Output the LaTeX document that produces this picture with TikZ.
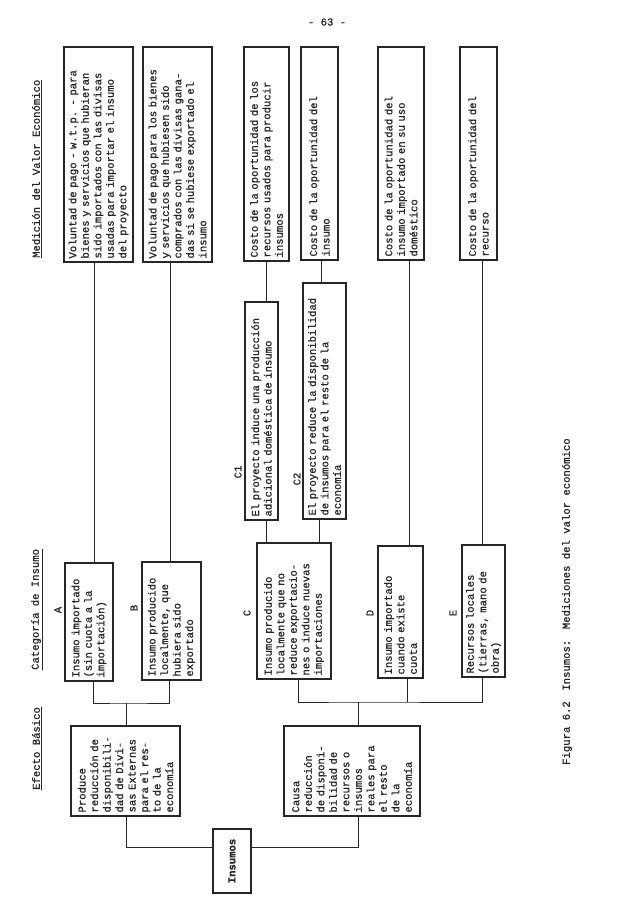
\documentclass[tikz,border=0pt]{standalone}
\usepackage{fontspec}
\setmainfont{Liberation Mono}[FakeBold=0.8]
\newcommand\mkbox[6]{%
  \pgfmathsetmacro\cx{(#2+#3)/2}\pgfmathsetmacro\cy{(#4+#5)/2}%
  \pgfmathsetmacro\bl{#5-#4}\pgfmathsetmacro\bh{#3-#2}\pgfmathsetmacro\tw{#5-#4-7}%
  \node[box, minimum width=\bl pt, minimum height=\bh pt, text width=\tw pt] (#1) at (\cx,\cy) {#6};}
\begin{document}
\begin{tikzpicture}[x=1pt,y=-1pt,
  every node/.style={font=\fontsize{10.6}{12.5}\selectfont, text=black!85},
  box/.style={draw=black!85, line width=1.1pt, rotate=90, inner xsep=3.5pt, inner ysep=2pt, align=left},
  lbl/.style={rotate=90, inner sep=0pt},
  conn/.style={draw=black!85, line width=0.9pt}]
\useasboundingbox (0,0) rectangle (618,915);
\fill[white] (0,0) rectangle (618,915);

\node[inner sep=0pt] (pg) at (327,22) {- 63 -};

% headers
\node[lbl, anchor=west] (h1) at (37,258) {\underline{Medición del Valor Económico}};
\node[lbl, anchor=west] (h2) at (37,670) {\underline{Categoría de Insumo}};
\node[lbl, anchor=west] (h3) at (37,790) {\underline{Efecto Básico}};

% measurement boxes
\mkbox{vol1}{64}{133}{47}{262}{Voluntad de pago - w.t.p. - para\\bienes y servicios que hubieran\\sido importados con las divisas\\usadas para importar el insumo\\del proyecto}
\mkbox{vol2}{143}{212}{47}{262}{Voluntad de pago para los bienes\\y servicios que hubiesen sido\\comprados con las divisas gana-\\das si se hubiese exportado el\\insumo}
\mkbox{cost1}{244}{289}{47}{261}{Costo de la oportunidad de los\\recursos usados para producir\\insumos}
\mkbox{cost2}{301}{338}{47}{260}{Costo de la oportunidad del\\insumo}
\mkbox{cost3}{378}{424}{47}{260}{Costo de la oportunidad del\\insumo importado en su uso\\doméstico}
\mkbox{cost4}{460}{497}{47}{260}{Costo de la oportunidad del\\recurso}

% C1 C2
\mkbox{c1}{245}{278}{302}{520}{El proyecto induce una producción\\adicional doméstica de insumo}
\mkbox{c2}{303}{346}{283}{519}{El proyecto reduce la disponibilidad\\de insumos para el resto de la\\economía}
\node[lbl] (lc1) at (238,472) {C1};
\node[lbl] (lc2) at (297,479) {C2};

% categories
\mkbox{A}{65}{113}{563}{681}{Insumo importado\\(sin cuota a la\\importación)}
\mkbox{B}{142}{201}{562}{680}{Insumo producido\\localmente, que\\hubiera sido\\exportado}
\mkbox{C}{257}{331}{543}{679}{Insumo producido\\localmente que no\\reduce exportacio-\\nes o induce nuevas\\importaciones}
\mkbox{D}{378}{423}{546}{678}{Insumo importado\\cuando existe\\cuota}
\mkbox{E}{462}{505}{545}{677}{Recursos locales\\(tierras, mano de\\obra)}
\node[lbl] (la) at (58,610) {A};
\node[lbl] (lb) at (134,608) {B};
\node[lbl] (lcc) at (247,613) {C};
\node[lbl] (ld) at (370,613) {D};
\node[lbl] (le) at (453,613) {E};

% basic effects
\mkbox{prod}{71}{180}{726}{816}{Produce\\reducción de\\disponibili-\\dad de Divi-\\sas Externas\\para el res-\\to de la\\economía}
\mkbox{causa}{284}{420}{726}{816}{Causa\\reducción\\de disponi-\\bilidad de\\recursos o\\insumos\\reales para\\el resto\\de la\\economía}

\node[box, minimum width=64pt, minimum height=38pt, font=\fontsize{10.6}{12.5}\selectfont\bfseries, align=center] (ins) at (232,861) {Insumos};

% caption
\node[lbl, anchor=west] (cap) at (567,765) {Figura 6.2\quad Insumos:\quad Mediciones del valor económico};

% connector positions
\coordinate (x1) at (94,0);
\coordinate (x2) at (170,0);
\coordinate (x3) at (266,0);
\coordinate (x4) at (321,0);
\coordinate (x4b) at (319,0);
\coordinate (x5) at (409,0);
\coordinate (x6) at (482,0);
\coordinate (xa) at (93,0);
\coordinate (xb) at (169,0);
\coordinate (xc) at (298,0);
\coordinate (xd) at (407,0);
\coordinate (jab) at (126,703);
\coordinate (jcde) at (358,702);
\coordinate (yins) at (0,847);

\draw[conn] (vol1.west -| x1) -- (A.east -| x1);
\draw[conn] (vol2.west -| x2) -- (B.east -| x2);
\draw[conn] (cost1.west -| x3) -- (c1.east -| x3);
\draw[conn] (c1.west -| x3) -- (C.east -| x3);
\draw[conn] (cost2.west -| x4) -- (c2.east -| x4);
\draw[conn] (c2.west -| x4b) -- (C.east -| x4b);
\draw[conn] (cost3.west -| x5) -- (D.east -| x5);
\draw[conn] (cost4.west -| x6) -- (E.east -| x6);

\draw[conn] (A.west -| xa) |- (jab) -| (B.west -| xb);
\draw[conn] (prod.east -| jab) -- (jab);
\draw[conn] (C.west -| xc) |- (jcde) -| (E.west -| x6);
\draw[conn] (D.west -| xd) -- (jcde -| xd);
\draw[conn] (causa.east -| jcde) -- (jcde);

\draw[conn] (ins.north |- yins) -| (prod.west -| jab);
\draw[conn] (ins.south |- yins) -| (causa.west -| jcde);
\end{tikzpicture}
\end{document}
